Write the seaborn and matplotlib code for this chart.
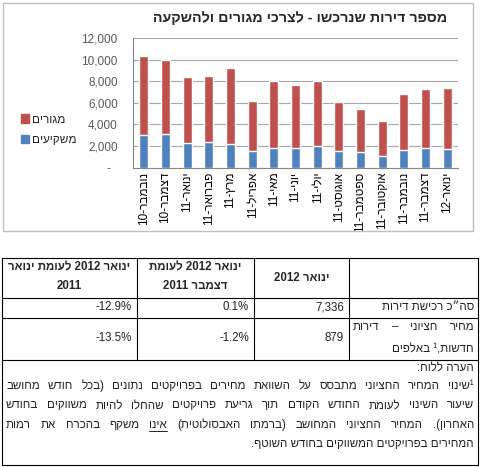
import re
import numpy as np
import matplotlib

matplotlib.use('Agg')
import matplotlib.pyplot as plt
from matplotlib.patches import Patch, Rectangle
from matplotlib.lines import Line2D
import pandas as pd
import seaborn as sns

W, H = 480, 467

months = ['נובמבר-10', 'דצמבר-10', 'ינואר-11', 'פברואר-11', 'מרץ-11', 'אפריל-11', 'מאי-11',
          'יוני-11', 'יולי-11', 'אוגוסט-11', 'ספטמבר-11', 'אוקטובר-11', 'נובמבר-11',
          'דצמבר-11', 'ינואר-12']
investors = [3000, 3150, 2250, 2400, 2150, 1500, 1800, 1850, 1950, 1500, 1450, 1050, 1600, 1850, 1700]
residents = [7300, 6800, 6100, 6050, 7050, 4650, 6200, 5800, 6100, 4550, 3950, 3300, 5250, 5450, 5636]
y_ticks = [0, 2000, 4000, 6000, 8000, 10000, 12000]

title = 'מספר דירות שנרכשו - לצרכי מגורים ולהשקעה'
lbl_res = 'מגורים'
lbl_inv = 'משקיעים'

col_heads = [['ינואר 2012 לעומת ינואר', '2011'], ['ינואר 2012 לעומת', 'דצמבר 2011'], ['ינואר 2012']]
row1 = ['-12.9%', '0.1%', '7,336', 'סה״כ רכישת דירות']
row2 = ['-13.5%', '-1.2%', '879']
row2_label = ['מחיר חציוני – דירות', 'חדשות,¹ באלפים']
note_head = 'הערה ללוח:'
note_lines = ['¹שינוי המחיר החציוני מתבסס על השוואת מחירים בפרויקטים נתונים (בכל חודש מחושב',
              'שיעור השינוי לעומת החודש הקודם תוך גריעת פרויקטים שהחלו להיות משווקים בחודש',
              'האחרון). המחיר החציוני המחושב (ברמתו האבסולוטית) אינו משקף בהכרח את רמות',
              'המחירים בפרויקטים המשווקים בחודש השוטף.']

RED = '#C0504D'
BLUE = '#4F81BD'
TXT = '#222222'


def heb(s):
    # crude bidi: reverse for RTL, keep number runs left-to-right
    r = s[::-1].translate(str.maketrans('()', ')('))
    return re.sub(r'[0-9A-Za-z][0-9A-Za-z.,%]*[0-9A-Za-z%]|[0-9A-Za-z]', lambda m: m.group(0)[::-1], r)


def fx(x):
    return x / W


def fy(y):
    return 1 - y / H


sns.set_style('white')
plt.rcParams['font.family'] = ['Liberation Sans', 'DejaVu Sans']

fig = plt.figure(figsize=(W / 100, H / 100), dpi=100)
fig.patch.set_facecolor('white')

# chart frame
fig.patches.append(Rectangle((fx(3), fy(231)), fx(470), 228 / H, transform=fig.transFigure,
                             fill=False, edgecolor='#bfbfbf', lw=1))

ax = fig.add_axes([fx(133), fy(167.5), fx(458 - 133), (167.5 - 38) / H])
df = pd.DataFrame({'month': months, 'inv': investors, 'res': residents})
df['total'] = df['inv'] + df['res']
sns.barplot(data=df, x='month', y='total', color=RED, width=0.43, errorbar=None, ax=ax, saturation=1)
sns.barplot(data=df, x='month', y='inv', color=BLUE, width=0.43, errorbar=None, ax=ax, saturation=1)

ax.set_xlim(-0.5, len(months) - 0.5)
ax.set_ylim(0, 12000)
ax.set_yticks(y_ticks)
ax.set_yticklabels(['-  '] + [f'{v:,}' for v in y_ticks[1:]])
ax.set_xticks(range(len(months)))
ax.set_xticklabels([heb(m) for m in months], rotation=90, fontsize=8.5, color='#000000')
ax.set_xticks(np.arange(-0.5, len(months)), minor=True)
ax.tick_params(axis='x', which='major', length=0, pad=3)
ax.tick_params(axis='x', which='minor', length=4, color='#868686', width=0.8)
ax.tick_params(axis='y', length=0, pad=11, labelsize=8.5, labelcolor='#595959')
ax.grid(axis='y', color='#a6a6a6', lw=0.8)
ax.set_axisbelow(True)
ax.set_xlabel('')
ax.set_ylabel('')
for s in ['top', 'right']:
    ax.spines[s].set_visible(False)
for s in ['left', 'bottom']:
    ax.spines[s].set_color('#868686')
    ax.spines[s].set_linewidth(0.8)

handles = [Patch(color=RED, label=heb(lbl_res)), Patch(color=BLUE, label=heb(lbl_inv))]
fig.legend(handles=handles, loc='center left', bbox_to_anchor=(fx(10), fy(130)), frameon=False,
           fontsize=8.5, handlelength=0.7, handleheight=0.7, handletextpad=0.3, labelspacing=0.75)

fig.text(fx(300), fy(18), heb(title), ha='center', va='center', fontsize=10.3, fontweight='bold')

# table
cols = [2, 137, 254, 349, 478]
rows = [258, 298, 318, 360, 465]
lk = dict(color='black', lw=0.8, transform=fig.transFigure)
for y in rows:
    fig.add_artist(Line2D([fx(cols[0]), fx(cols[-1])], [fy(y), fy(y)], **lk))
for x in cols[1:-1]:
    fig.add_artist(Line2D([fx(x), fx(x)], [fy(rows[0]), fy(rows[3])], **lk))
for x in [cols[0], cols[-1]]:
    fig.add_artist(Line2D([fx(x), fx(x)], [fy(rows[0]), fy(rows[-1])], **lk))

FS = 8.3
for i, head in enumerate(col_heads):
    cx = (cols[i] + cols[i + 1]) / 2
    if len(head) == 2:
        fig.text(fx(cx), fy(267), heb(head[0]), ha='center', va='center', fontsize=FS, fontweight='bold')
        fig.text(fx(cx), fy(286), heb(head[1]), ha='center', va='center', fontsize=FS, fontweight='bold')
    else:
        fig.text(fx(cx), fy(278), heb(head[0]), ha='center', va='center', fontsize=FS, fontweight='bold')

for i in range(3):
    fig.text(fx(cols[i + 1] - 5), fy(307), row1[i], ha='right', va='center', fontsize=FS, color=TXT)
    fig.text(fx(cols[i + 1] - 5), fy(338), row2[i], ha='right', va='center', fontsize=FS, color=TXT)
fig.text(fx(474), fy(307), heb(row1[3]), ha='right', va='center', fontsize=FS, color=TXT)

renderer = fig.canvas.get_renderer()


def justify(line, x0, x1, y, size, underline=()):
    words = line.split()
    texts = [fig.text(0, fy(y), heb(w), ha='left', va='center', fontsize=size, color=TXT) for w in words]
    widths = [t.get_window_extent(renderer).width for t in texts]
    gap = (x1 - x0 - sum(widths)) / max(len(words) - 1, 1)
    x = x1
    for w, t, wd in zip(words, texts, widths):
        t.set_x(fx(x - wd))
        if w in underline:
            fig.add_artist(Line2D([fx(x - wd), fx(x)], [fy(y + 6), fy(y + 6)], color=TXT, lw=0.7,
                                  transform=fig.transFigure))
        x -= wd + gap


justify(row2_label[0], 353, 474, 327, FS)
fig.text(fx(474), fy(349), heb(row2_label[1]), ha='right', va='center', fontsize=FS, color=TXT)

fig.text(fx(474), fy(368), heb(note_head), ha='right', va='center', fontsize=FS, color=TXT)
for i, line in enumerate(note_lines[:3]):
    justify(line, 6, 474, 386 + i * 19.3, FS, underline=('אינו',))
fig.text(fx(474), fy(444), heb(note_lines[3]), ha='right', va='center', fontsize=FS, color=TXT)

plt.savefig('out.png', dpi=100)
plt.close()
